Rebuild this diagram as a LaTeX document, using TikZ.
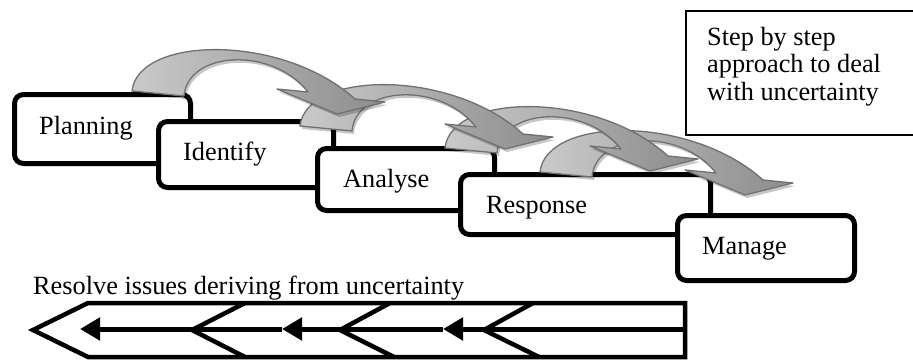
\documentclass[tikz,border=0pt]{standalone}
\usepackage{fontspec}
\setmainfont{Liberation Serif}
\usetikzlibrary{arrows.meta}
\definecolor{arrowedge}{HTML}{707070}
\tikzset{
  stepbox/.style={draw=black, line width=5pt, rounded corners=9pt, fill=white, inner sep=0pt},
  steplabel/.style={anchor=base west, inner sep=0pt, font=\fontsize{26.3}{30}\selectfont},
  bentarrowfill/.style={draw=arrowedge, line width=1.3pt, line join=round,
    left color=gray!42, middle color=gray!12, right color=gray!90},
  bentarrow/.pic={
    \fill[black, opacity=0.22, shift={(2,3)}]
      (0,0) .. controls (6,-55) and (150,-58) .. (223,8) -- (253,11) -- (205,23)
      -- (145,-2) -- (176,1) .. controls (140,-45) and (56,-40) .. (52,5) -- cycle;
    \path[bentarrowfill]
      (0,0) .. controls (6,-55) and (150,-58) .. (223,8) -- (253,11) -- (205,23)
      -- (145,-2) -- (176,1) .. controls (140,-45) and (56,-40) .. (52,5) -- cycle;
  },
  outline/.style={draw=black, line width=4.5pt, line join=miter},
  flowline/.style={draw=black, line width=5pt, -{Triangle[length=20pt, width=22pt]}}
}
\begin{document}
\begin{tikzpicture}[x=1pt, y=-1pt]
\useasboundingbox (0,0) rectangle (913,361);
\clip (0,0) rectangle (913,361);

% process steps, each one overlapping the previous
\node[stepbox, minimum width=176pt, minimum height=69pt] (planning) at (102.5,129) {};
\node[stepbox, minimum width=175pt, minimum height=66pt] (identify) at (246,154.5) {};
\node[stepbox, minimum width=177pt, minimum height=62pt] (analyse) at (406,179.5) {};
\node[stepbox, minimum width=250pt, minimum height=60pt] (response) at (585.5,204.5) {};
\node[stepbox, minimum width=177pt, minimum height=65pt] (manage) at (766,248) {};

\node[steplabel] (lplanning) at (39,134) {Planning};
\node[steplabel] (lidentify) at (183,160) {Identify};
\node[steplabel] (lanalyse) at (343,187) {Analyse};
\node[steplabel] (lresponse) at (486,213) {Response};
\node[steplabel] (lmanage) at (702,254) {Manage};

% bent arrows from one step to the next
\coordinate (a1) at (132,91);
\coordinate (a2) at (300,126);
\coordinate (a3) at (445,148);
\coordinate (a4) at (540,172);
\pic at (a4) {bentarrow};
\pic at (a3) {bentarrow};
\pic at (a2) {bentarrow};
\pic at (a1) {bentarrow};

% note box
\node[draw=black, line width=1.8pt, minimum width=240pt, minimum height=124pt,
      anchor=north west, inner sep=0pt] (note) at (685,10) {};
\node[anchor=north west, align=left, inner sep=0pt,
      font=\fontsize{26.3}{27.5}\selectfont] (notetext) at (707,27)
  {Step by step\\approach to deal\\with uncertainty};

% feedback arrow
\node[steplabel] (resolve) at (33,294) {Resolve issues deriving from uncertainty};

\coordinate (ot) at (33,330);
\coordinate (otl) at (88,303);
\coordinate (otr) at (685,303);
\coordinate (obr) at (685,357);
\coordinate (obl) at (88,357);
\draw[outline] (ot) -- (otl) -- (otr) -- (obr) -- (obl) -- cycle;

\coordinate (c1t) at (245,303); \coordinate (c1v) at (192,330); \coordinate (c1b) at (245,357);
\coordinate (c2t) at (390,303); \coordinate (c2v) at (340,330); \coordinate (c2b) at (394,357);
\coordinate (c3t) at (533,303); \coordinate (c3v) at (484,330); \coordinate (c3b) at (539,357);
\draw[outline] (c1t) -- (c1v) -- (c1b);
\draw[outline] (c2t) -- (c2v) -- (c2b);
\draw[outline] (c3t) -- (c3v) -- (c3b);

\coordinate (f0) at (685,329);
\coordinate (f1) at (443,329);
\coordinate (f2) at (282,329);
\coordinate (f3) at (80,329);
\draw[flowline] (f0) -- (f1);
\draw[flowline] (f1) -- (f2);
\draw[flowline] (f2) -- (f3);
\end{tikzpicture}
\end{document}
